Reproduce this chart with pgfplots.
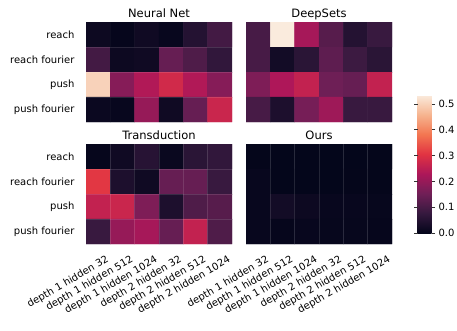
\documentclass[border=0pt]{standalone}
\usepackage{fontspec}
\setmainfont{DejaVu Sans}
\usepackage{pgfplots}
\pgfplotsset{compat=1.18}

% seaborn "rocket", sampled at 0, 1/7, ..., 1
\pgfplotsset{
  colormap={rocket}{rgb255=(3,5,26) rgb255=(53,25,62) rgb255=(112,31,87)
    rgb255=(173,23,89) rgb255=(225,51,66) rgb255=(243,118,81)
    rgb255=(246,180,143) rgb255=(250,235,221)},
  heat/.style={
    scale only axis, width=146pt, height=100pt,
    anchor=south west,
    xmin=-0.5, xmax=5.5, ymin=-0.5, ymax=3.5,
    y dir=reverse, enlargelimits=false,
    axis line style={draw=none},
    major tick length=0pt, minor tick length=0pt,
    xtick={0,...,5}, ytick={0,...,3},
    minor xtick={0.5,1.5,...,4.5}, minor ytick={0.5,1.5,2.5},
    xminorgrids, yminorgrids, axis on top,
    minor grid style={white, opacity=0.12, line width=0.5pt},
    xticklabels={depth 1 hidden 32, depth 1 hidden 512, depth 1 hidden 1024,
      depth 2 hidden 32, depth 2 hidden 512, depth 2 hidden 1024},
    yticklabels={reach, reach fourier, push, push fourier},
    tick label style={font=\normalsize},
    xticklabel style={rotate=30, anchor=north east, inner sep=1pt,
      yshift=-12pt, xshift=2pt},
    yticklabel style={xshift=-8pt},
    colormap name=rocket,
    point meta min=0, point meta max=0.535,
    every axis title/.style={at={(0.5,1)}, anchor=base, yshift=5pt,
      font=\fontsize{11.5}{13}\selectfont},
  },
  cells/.style={matrix plot*, mesh/cols=6, point meta=explicit},
}

\begin{document}
\begin{tikzpicture}
\path[use as bounding box] (0,0) rectangle (457pt,330pt);

% Neural Net
\begin{axis}[heat, at={(86pt,208pt)}, title={Neural Net}, xtick=\empty]
\addplot[cells] coordinates {
(0,0) [0.015] (1,0) [0.005] (2,0) [0.020] (3,0) [0.008] (4,0) [0.050] (5,0) [0.095]

(0,1) [0.095] (1,1) [0.015] (2,1) [0.020] (3,1) [0.140] (4,1) [0.110] (5,1) [0.070]

(0,2) [0.500] (1,2) [0.180] (2,2) [0.235] (3,2) [0.280] (4,2) [0.235] (5,2) [0.180]

(0,3) [0.012] (1,3) [0.008] (2,3) [0.200] (3,3) [0.020] (4,3) [0.140] (5,3) [0.270]
};
\end{axis}

% DeepSets
\begin{axis}[heat, at={(246pt,208pt)}, title={DeepSets}, xtick=\empty, ytick=\empty]
\addplot[cells] coordinates {
(0,0) [0.100] (1,0) [0.535] (2,0) [0.220] (3,0) [0.120] (4,0) [0.050] (5,0) [0.080]

(0,1) [0.100] (1,1) [0.025] (2,1) [0.060] (3,1) [0.130] (4,1) [0.085] (5,1) [0.060]

(0,2) [0.170] (1,2) [0.230] (2,2) [0.260] (3,2) [0.150] (4,2) [0.140] (5,2) [0.260]

(0,3) [0.100] (1,3) [0.040] (2,3) [0.160] (3,3) [0.210] (4,3) [0.080] (5,3) [0.080]
};
\end{axis}

% Transduction
\begin{axis}[heat, at={(86pt,86pt)}, title={Transduction}]
\addplot[cells] coordinates {
(0,0) [0.005] (1,0) [0.020] (2,0) [0.055] (3,0) [0.010] (4,0) [0.060] (5,0) [0.070]

(0,1) [0.310] (1,1) [0.040] (2,1) [0.020] (3,1) [0.140] (4,1) [0.140] (5,1) [0.080]

(0,2) [0.260] (1,2) [0.270] (2,2) [0.170] (3,2) [0.040] (4,2) [0.110] (5,2) [0.120]

(0,3) [0.080] (1,3) [0.200] (2,3) [0.220] (3,3) [0.140] (4,3) [0.260] (5,3) [0.110]
};
\end{axis}

% Ours, with the colorbar
\begin{axis}[heat, at={(246pt,86pt)}, title={Ours}, ytick=\empty,
  colorbar,
  colorbar style={
    at={(parent axis.south east)}, anchor=south west,
    xshift=17pt, yshift=11pt,
    width=14pt, height=138pt,
    axis line style={draw=none},
    xminorgrids=false, yminorgrids=false,
    ytick={0,0.1,0.2,0.3,0.4,0.5},
    tick align=outside,
    major tick length=3.5pt,
    major tick style={draw=black!80, line width=0.8pt},
    yticklabel style={font=\normalsize, /pgf/number format/.cd, fixed,
      fixed zerofill, precision=1, assume math mode=true},
  }]
\addplot[cells] coordinates {
(0,0) [0.003] (1,0) [0.002] (2,0) [0.002] (3,0) [0.002] (4,0) [0.002] (5,0) [0.003]

(0,1) [0.008] (1,1) [0.002] (2,1) [0.002] (3,1) [0.002] (4,1) [0.003] (5,1) [0.003]

(0,2) [0.008] (1,2) [0.025] (2,2) [0.015] (3,2) [0.008] (4,2) [0.008] (5,2) [0.006]

(0,3) [0.008] (1,3) [0.004] (2,3) [0.008] (3,3) [0.006] (4,3) [0.006] (5,3) [0.004]
};
\end{axis}
\end{tikzpicture}
\end{document}
